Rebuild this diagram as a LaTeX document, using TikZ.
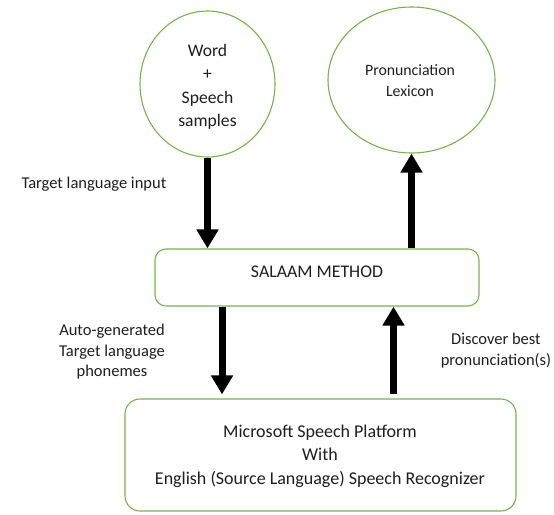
\documentclass[tikz,border=0pt]{standalone}
\usepackage{fontspec}
\setmainfont{Carlito}
\usetikzlibrary{arrows.meta,shapes.geometric}
\definecolor{ogreen}{RGB}{120,178,80}
\definecolor{txt}{RGB}{30,30,30}
\tikzset{
  x=1pt,y=1pt,
  oval/.style={ellipse,draw=ogreen,line width=1.1pt,inner sep=0pt},
  rbox/.style={draw=ogreen,line width=1.1pt,rounded corners=11pt,inner sep=0pt},
  fat/.style={line width=7pt,-{Triangle[width=21pt,length=19pt]}},
  lbl/.style={text=txt,font=\fontsize{16.5}{20.5}\selectfont,align=center},
}
\begin{document}
\begin{tikzpicture}
\useasboundingbox (0,0) rectangle (554,-514);
% shapes
\node[oval,minimum width=135pt,minimum height=146pt] (w) at (207.5,-84) {};
\node[oval,minimum width=167pt,minimum height=146pt] (p) at (411.5,-80) {};
\node[rbox,minimum width=324pt,minimum height=57pt] (s) at (317,-277.5) {};
\node[rbox,rounded corners=15pt,minimum width=391pt,minimum height=112pt] (m) at (320.5,-455) {};
% texts
\node[lbl,font=\fontsize{17.6}{23.5}\selectfont] (wt) at (207.5,-87) {Word\\+\\Speech\\samples};
\node[lbl,font=\fontsize{15.8}{21}\selectfont] (pt) at (410,-81) {Pronunciation\\Lexicon};
\node[lbl,font=\fontsize{17.8}{18}\selectfont] (st) at (317,-272) {SALAAM METHOD};
\node[lbl,font=\fontsize{18}{23.5}\selectfont] (mt) at (320,-456) {Microsoft Speech Platform\\With\\English (Source Language) Speech Recognizer};
\node[lbl,anchor=west] (l1) at (18,-184) {Target language input};
\node[lbl] (l2) at (112,-352) {Auto-generated\\Target language\\phonemes};
\node[lbl] (l3) at (496,-350.5) {Discover best\\pronunciation(s)};
% connector x positions
\coordinate (x3) at (222,0);
\coordinate (x4) at (393.5,0);
% arrows
\draw[fat] (w.south) -- (w.south |- s.north);
\draw[fat] (s.north -| p.south) -- (p.south);
\draw[fat,shorten >=4pt] (s.south -| x3) -- (m.north -| x3);
\draw[fat,shorten <=4pt] (m.north -| x4) -- (s.south -| x4);
\end{tikzpicture}
\end{document}
